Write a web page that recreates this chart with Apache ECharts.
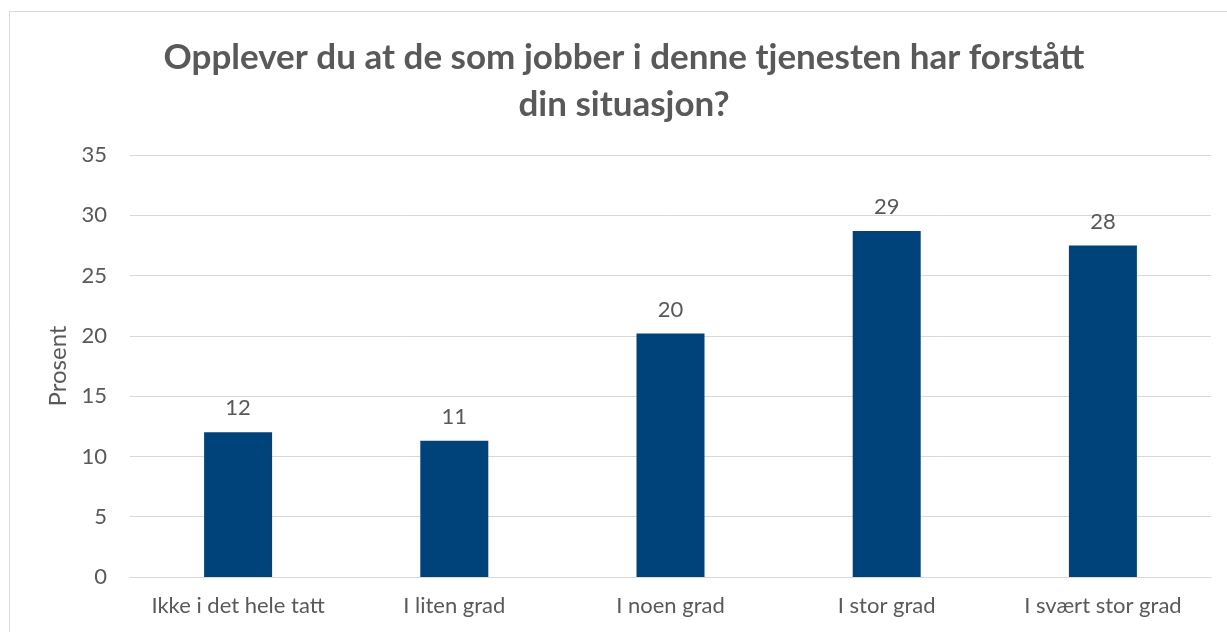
<!DOCTYPE html>
<html>
<head>
<meta charset="utf-8">
<script src="https://cdn.jsdelivr.net/npm/echarts@6/dist/echarts.min.js"></script>
<style>
  html, body { margin: 0; padding: 0; background: #fff; }
  #chart { width: 1227px; height: 632px; }
</style>
</head>
<body>
<div id="chart"></div>
<script>
// Data
const categories = ['Ikke i det hele tatt', 'I liten grad', 'I noen grad', 'I stor grad', 'I svært stor grad'];
const values = [12.0, 11.3, 20.2, 28.7, 27.5];
const yTicks = [0, 5, 10, 15, 20, 25, 30, 35];

const titleText = 'Opplever du at de som jobber i denne tjenesten har forstått\ndin situasjon?';
const axisName = 'Prosent';

const textColor = '#595959';
const gridColor = '#d9d9d9';
const barColor = '#00427a';
const font = 'Lato, "Open Sans", sans-serif';

const myChart = echarts.init(document.getElementById('chart'));

const option = {
    backgroundColor: '#ffffff',
    animation: false,
    textStyle: { fontFamily: font, color: textColor },
    title: {
        text: titleText,
        left: 624,
        top: 34,
        padding: 0,
        textAlign: 'center',
        textStyle: {
            fontFamily: font,
            fontSize: 35,
            fontWeight: 'bold',
            color: textColor,
            lineHeight: 47
        }
    },
    graphic: [{
        type: 'rect',
        shape: { x: 9.5, y: 11.5, width: 1300, height: 700 },
        style: { fill: 'none', stroke: gridColor, lineWidth: 1 },
        silent: true
    }],
    grid: {
        left: 130,
        right: 16,
        top: 155,
        bottom: 55,
        containLabel: false
    },
    xAxis: {
        type: 'category',
        data: categories,
        axisTick: { show: false },
        axisLine: { lineStyle: { color: gridColor, width: 1 } },
        axisLabel: {
            color: textColor,
            fontSize: 22,
            margin: 18,
            interval: 0,
            fontFamily: font
        }
    },
    yAxis: {
        type: 'value',
        min: yTicks[0],
        max: yTicks[yTicks.length - 1],
        interval: 5,
        name: axisName,
        nameLocation: 'middle',
        nameGap: 58,
        nameTextStyle: { color: textColor, fontSize: 24, fontFamily: font },
        axisLine: { show: false },
        axisTick: { show: false },
        axisLabel: { color: textColor, fontSize: 22, margin: 23, fontFamily: font },
        splitLine: { lineStyle: { color: gridColor, width: 1 } }
    },
    series: [{
        type: 'bar',
        data: values,
        barWidth: 68,
        itemStyle: { color: barColor },
        label: {
            show: true,
            position: 'top',
            distance: 13,
            color: textColor,
            fontSize: 22,
            fontFamily: font,
            formatter: p => Math.round(p.value)
        }
    }]
};

myChart.setOption(option);
</script>
</body>
</html>
